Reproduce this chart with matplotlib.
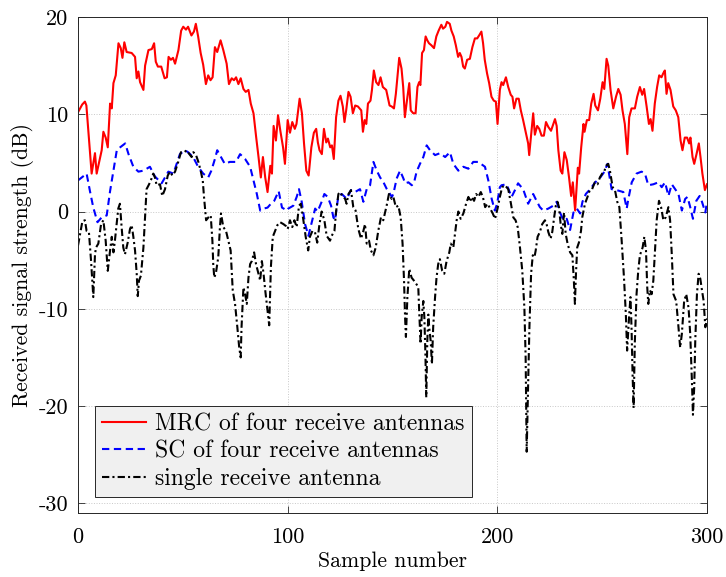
import matplotlib
matplotlib.use("Agg")
import matplotlib.pyplot as plt

plt.rcParams['font.family'] = 'serif'
plt.rcParams['font.serif'] = ['cmr10']
plt.rcParams['mathtext.fontset'] = 'cm'
plt.rcParams['axes.unicode_minus'] = False
plt.rcParams['axes.formatter.use_mathtext'] = False

# ---- data ----
mrc_x = [0, 2, 3.3, 4, 6.5, 8.1, 8.9, 11.3, 12.1, 13.2, 14.2, 15.3, 16.1, 16.9, 18, 19.3, 20.4, 21.2, 22.1, 23.2,
         25.6, 27.2, 28, 28.8, 29.6, 31.2, 32, 33.6, 35.2, 36.3, 37.1, 38.1, 39.7, 41.3, 42.4, 43.2, 44.3, 45.3, 46.3, 47.9,
         49.2, 50.2, 51.5, 52.5, 54.1, 55.3, 56.2, 57.3, 58.5, 59.7, 61, 62.1, 63.2, 64.2, 65.3, 66.4, 68, 69.3, 70.9, 72,
         73.3, 74.4, 75.4, 76.5, 77.6, 78.9, 80, 81.3, 82.4, 83.7, 85, 86.1, 87.2, 88.2, 89.3, 90.4, 91.7, 92.5, 93.3, 94.4,
         95.4, 96.5, 97.8, 98.7, 100, 101.1, 102.2, 103.4, 104.2, 105.7, 106.8, 107.8, 108.9, 110, 111.3, 112.5, 113.6, 114.4, 115.2, 116.3,
         117.3, 118.4, 119.2, 120.3, 121.1, 122, 123.1, 124.2, 125.2, 126.3, 127.1, 127.9, 129, 130, 131.1, 132.2, 133.5, 135.1, 135.9, 136.7,
         137.5, 138.3, 139.5, 140.2, 141.1, 142.2, 143.3, 144.3, 145.4, 147, 148.6, 149.6, 150.7, 151.6, 153.2, 154.3, 155.1, 155.9, 156.7, 158,
         158.7, 159.9, 161, 161.9, 162.7, 163.3, 164.1, 165, 165.8, 166.6, 167.4, 168.5, 169.8, 170.9, 172, 173.3, 174.1, 175.2, 176, 177.3,
         178.1, 179.2, 180.2, 181.3, 182.1, 182.9, 183.7, 184.5, 185.6, 186.9, 188.1, 189.3, 190.4, 191.3, 192.4, 193.2, 194, 195.1, 196.1, 197.2,
         198.3, 199.3, 200.1, 201.2, 202, 202.8, 204.1, 205.2, 206.4, 207.2, 208, 209.1, 210.2, 211.2, 212.3, 213.4, 214.7, 215.2, 216, 217.1,
         217.9, 219, 220, 221.1, 222.2, 223.2, 224.3, 225.6, 226.4, 227.5, 228.3, 229.1, 230.2, 231, 232, 233.1, 234.2, 235.2, 236, 237.1,
         237.9, 238.4, 239, 240, 241.1, 241.6, 242.7, 243.8, 244.8, 245.9, 246.7, 248, 249.1, 250.2, 251, 252.1, 252.9, 254, 255.3, 256.6,
         257.7, 258.8, 259.7, 260.8, 262, 262.9, 264, 265.6, 266.7, 268, 269.1, 270, 271.2, 272.3, 273.1, 274, 275.1, 276.2, 277.2, 278.3,
         279.1, 279.9, 280.7, 281.5, 282.6, 283.9, 285.1, 286.3, 287.4, 288.3, 289.4, 290.5, 291.5, 292.1, 293.1, 293.9, 295, 296.1, 296.9, 297.8,
         299, 300]
mrc_y = [10.2, 11.0, 11.3, 10.9, 3.9, 6.0, 3.9, 6.3, 8.2, 7.6, 6.6, 11.1, 10.6, 13.2, 14.0, 17.3, 16.8, 15.8, 17.4, 16.4,
         16.3, 15.9, 13.7, 14.4, 13.3, 12.5, 15.0, 16.6, 16.7, 17.3, 15.4, 14.9, 14.9, 13.7, 13.8, 15.9, 15.6, 15.8, 15.2, 16.6,
         18.6, 19.0, 18.7, 19.0, 18.1, 18.5, 19.3, 18.0, 16.3, 15.1, 13.1, 14.0, 13.5, 13.8, 16.9, 16.4, 17.6, 16.6, 15.2, 13.1,
         13.7, 13.5, 13.8, 13.1, 13.7, 12.6, 12.3, 12.5, 11.1, 10.1, 7.6, 5.6, 3.5, 5.6, 3.5, 2.0, 4.7, 3.9, 8.8, 7.3,
         9.9, 8.3, 6.6, 4.9, 9.4, 8.1, 9.2, 8.5, 9.0, 11.6, 10.1, 7.0, 4.2, 3.7, 6.6, 8.1, 8.5, 7.1, 6.3, 5.9,
         8.5, 7.1, 7.5, 6.6, 6.8, 5.4, 9.7, 11.4, 11.9, 10.8, 9.2, 10.4, 12.3, 11.8, 10.1, 10.9, 10.8, 10.4, 8.2, 9.4,
         9.0, 11.1, 11.4, 12.5, 14.5, 13.3, 13.0, 13.8, 12.8, 12.5, 10.9, 10.8, 10.6, 12.1, 15.8, 14.7, 12.8, 9.7, 11.1, 13.2,
         10.4, 10.1, 10.1, 12.8, 13.3, 13.0, 16.3, 16.6, 18.0, 17.6, 17.3, 17.1, 16.8, 18.0, 18.6, 19.2, 18.8, 19.0, 19.5, 19.3,
         18.6, 18.0, 17.1, 15.9, 16.3, 15.9, 14.9, 14.7, 15.6, 15.7, 16.9, 17.8, 17.8, 18.1, 18.5, 17.3, 15.6, 14.2, 13.2, 11.8,
         11.4, 11.3, 9.0, 12.5, 13.3, 13.0, 13.8, 12.8, 12.0, 11.8, 10.6, 11.6, 11.6, 10.4, 9.4, 8.3, 7.0, 5.8, 7.6, 10.1,
         7.9, 8.8, 8.5, 7.8, 7.8, 9.2, 8.7, 8.3, 8.8, 9.5, 8.8, 6.3, 4.2, 3.9, 6.1, 5.3, 3.5, 1.6, 3.0, 0.1,
         2.8, 4.5, 3.9, 6.6, 9.0, 8.2, 9.4, 9.4, 11.1, 12.1, 10.9, 10.4, 11.6, 13.3, 12.6, 15.7, 15.0, 12.5, 10.6, 11.8,
         12.6, 12.0, 10.4, 9.0, 5.9, 9.7, 10.6, 10.6, 11.8, 12.8, 12.0, 12.6, 10.8, 9.0, 9.5, 8.3, 11.1, 12.8, 14.0, 13.8,
         14.2, 14.5, 12.1, 13.2, 12.5, 10.8, 10.4, 9.7, 7.3, 6.3, 7.6, 7.6, 7.0, 7.6, 5.6, 4.9, 5.9, 7.0, 5.6, 3.9,
         2.2, 2.8]

sc_x = [0, 1.8, 4.1, 5.7, 7.3, 9.3, 11.3, 13.7, 15.3, 16.9, 18.5, 20.1, 22.5, 24.1, 26.4, 28.8, 31.2, 34.3, 36.7, 39.9,
        43.1, 45.5, 48.6, 51, 52.5, 54.9, 57.3, 59.7, 62.1, 63.6, 65.3, 66.4, 67.7, 70, 72.4, 75.4, 77.3, 79.7, 82.1, 83.7,
        85.3, 86.9, 88.5, 90.4, 92, 93.6, 95.7, 97.3, 99.7, 100.3, 102.7, 104.3, 105.4, 106.7, 108.3, 109.9, 111.5, 113.1, 114.3, 116.2,
        117.5, 119.1, 120.7, 121.8, 122.6, 123.4, 124.2, 125.8, 128.2, 130.2, 132.1, 134.5, 136.1, 137.7, 139.3, 140.9, 142.5, 144.1, 145.7, 147.3,
        149.7, 150.4, 152, 153.6, 155.2, 156, 157.6, 159.2, 160.3, 161.5, 163.1, 164.7, 166.3, 167.9, 170.3, 172.7, 175.1, 177.4, 179, 181.4,
        183.8, 186.2, 188.5, 190.9, 194.1, 195.7, 197.3, 198.8, 199.9, 201.2, 202, 204.4, 206.8, 208.4, 209.9, 212.3, 214.7, 217.1, 218.7, 220.3,
        221.9, 224.3, 226.7, 228.3, 229.9, 231.5, 233.1, 234.7, 236.3, 237.9, 239.5, 240.6, 242.2, 244.3, 246.7, 249.1, 251.1, 252.5, 254.5, 256.9,
        260.1, 261.7, 262.5, 264.1, 266.4, 268.8, 270.4, 272, 274.4, 276.8, 278.4, 280, 281.6, 283.2, 284.8, 286.4, 288, 289.6, 290.7, 292,
        293.3, 294.9, 296.5, 297.6, 299.2, 300]
sc_y = [3.2, 3.5, 3.9, 2.1, 0.4, -1.1, -0.6, -0.4, 2.1, 4.2, 6.3, 6.6, 7.0, 5.9, 4.6, 4.1, 4.2, 4.6, 3.6, 2.9,
        4.1, 3.9, 5.9, 6.3, 6.1, 5.6, 4.6, 3.9, 3.5, 4.2, 5.4, 6.3, 5.8, 4.9, 5.1, 5.1, 5.9, 5.4, 4.6, 3.2,
        1.8, 0.1, 0.3, 0.4, 0.8, 1.1, 2.1, 0.4, 0.1, 0.3, 0.6, 1.5, 2.3, 1.0, -1.3, -2.5, -1.1, 0.3, 0.0, 1.0,
        1.8, 1.5, 0.6, -0.6, -0.9, 0.45, 1.6, 1.8, 1.3, 2.2, 2.0, 2.3, 1.0, 2.3, 2.7, 5.1, 4.2, 3.5, 3.0, 2.3,
        1.5, 1.8, 3.4, 4.2, 3.4, 2.9, 3.0, 2.7, 3.0, 4.1, 4.9, 5.6, 6.8, 6.3, 5.8, 6.0, 5.6, 6.1, 4.9, 4.2,
        4.6, 4.4, 5.1, 5.1, 4.6, 3.2, 1.3, 0.1, 0.8, 2.5, 2.7, 2.8, 1.5, 2.2, 2.9, 2.3, 0.8, 1.8, 1.1, 0.45,
        0.1, 0.3, 0.6, 1.0, -0.1, -0.9, -0.75, -1.9, -0.1, 0.3, -0.2, 1.0, 1.8, 2.3, 3.0, 3.5, 4.1, 4.9, 2.3, 2.2,
        2.0, 0.3, 1.3, 3.0, 3.9, 4.1, 3.9, 2.7, 2.8, 3.0, 2.5, 3.0, 1.6, 2.8, 2.3, 1.8, 0.1, 1.3, 1.5, 0.45,
        -0.75, 1.1, 1.6, 1.0, -0.1, 1.0]

single_x = [0, 2.1, 3.3, 4.1, 5.2, 6.2, 7.3, 8.1, 8.6, 9.7, 11, 12.1, 13.2, 14.2, 15.3, 16.1, 16.9, 17.6, 18.4, 19.2,
            20, 20.8, 21.6, 22.4, 23.7, 24.8, 25.6, 26.4, 27.2, 28, 28.5, 29.1, 30, 31.2, 32, 32.7, 33.9, 35.1, 35.9, 36.7,
            37.5, 39.1, 40.2, 41.5, 42.8, 43.9, 45, 46.3, 47.8, 49.1, 50.7, 51.8, 53.1, 54.2, 55, 56.3, 57.4, 58.5, 59.5, 60.1,
            61.1, 62.2, 63.3, 64.1, 64.5, 65, 65.8, 66.9, 67.7, 68.2, 69.3, 70.6, 71.7, 72.8, 73.8, 74.9, 76, 76.9, 77.6, 78,
            78.9, 79.7, 80.5, 81.3, 82.1, 82.9, 84, 84.9, 86.1, 86.9, 87.7, 88.5, 89.3, 90.4, 91.2, 92, 92.9, 94, 95.1, 96.4,
            98, 99.2, 100, 101.1, 102.2, 103.2, 104.3, 105.4, 106.3, 107.5, 108.6, 109.8, 110.6, 111.8, 113, 114.1, 115.1, 116.2, 117.5, 118.6,
            120.2, 121, 122.3, 123.1, 124.2, 125, 126.1, 127.4, 128.1, 129, 130.2, 131.3, 132.4, 133.7, 135, 136.1, 136.9, 137.7, 138.8, 139.7,
            140.9, 142, 143.2, 144.5, 145.6, 147.2, 148.3, 149.6, 150.4, 151.6, 152.8, 153.9, 154.8, 155.5, 156, 156.4, 157.1, 158, 159.1, 160.2,
            161.5, 162.3, 162.8, 163.4, 163.9, 164.7, 165.2, 165.7, 166.1, 166.6, 167.1, 167.5, 168.2, 168.8, 169.4, 170.3, 171, 171.8, 172.6, 173.7,
            174.7, 175.8, 177.1, 177.8, 179, 179.8, 180.6, 181.4, 182.5, 183.8, 185.1, 186.2, 187, 187.8, 188.9, 189.9, 191, 192.1, 193.1, 194.2,
            195.3, 196.6, 197.8, 198.9, 200.1, 201.2, 202.3, 203.6, 205.2, 206.5, 207.6, 208.7, 209.7, 210.8, 211.9, 212.9, 213.5, 214, 214.5, 214.8,
            215.3, 216.1, 216.9, 217.7, 218.3, 219.2, 220.3, 221.4, 222.7, 223.5, 224.3, 225.4, 226.2, 227.1, 227.9, 228.7, 229.4, 230.2, 231, 231.8,
            232.6, 233.5, 234.7, 235.8, 236.5, 237, 237.5, 238.1, 238.9, 239.9, 240.5, 241.8, 243, 244.1, 245.2, 246.5, 247.8, 248.9, 250, 251,
            251.8, 252.9, 253.7, 255, 256.1, 257.2, 258.2, 259.3, 260.4, 261.3, 261.9, 262.9, 263.5, 264, 264.5, 265, 265.6, 266.4, 267.2, 268,
            269.3, 270.1, 270.9, 271.5, 272, 272.8, 273.6, 274.4, 275.2, 276, 277.1, 278.1, 279.2, 280.3, 281.6, 282.4, 283.2, 284, 285.3, 286.4,
            287.2, 288, 289.1, 290.1, 291.2, 292, 292.8, 293.3, 293.9, 294.4, 295.2, 296, 296.8, 297.6, 298.4, 299.2, 300]
single_y = [-3.5, -1.0, -0.9, -2.0, -2.1, -5.0, -8.8, -4.4, -3.7, -3.3, -1.3, -0.9, -3.0, -6.1, -4.0, -2.6, -4.2, -3.0, -1.3, 0.3,
            0.8, -1.6, -3.7, -4.4, -3.2, -1.8, -1.4, -2.6, -4.0, -6.4, -8.7, -7.1, -6.6, -3.7, -0.4, 2.3, 2.8, 3.4, 3.9, 3.5,
            2.7, 2.8, 1.6, 2.3, 3.7, 4.1, 3.7, 4.1, 5.1, 6.1, 6.1, 6.3, 5.9, 5.6, 6.1, 5.8, 5.1, 4.2, 3.2, 1.5,
            -0.9, -0.6, -0.4, -3.0, -5.4, -6.8, -6.3, -4.7, -1.6, -0.2, -1.6, -2.0, -3.0, -4.0, -8.1, -9.5, -11.9, -14.0, -15.0, -11.9,
            -7.8, -8.5, -9.5, -6.8, -5.4, -5.1, -4.2, -5.4, -6.4, -7.1, -5.1, -6.4, -8.1, -10.2, -11.7, -5.7, -2.6, -2.0, -1.4, -1.1,
            -1.3, -1.5, -1.8, -0.9, -1.6, -0.9, -1.6, 0.6, 0.8, -0.9, -2.6, -4.0, -2.6, -2.0, -2.1, -3.2, -1.4, 0.0, -0.9, -2.5,
            -3.0, -2.5, -2.0, 0.0, 1.8, 2.0, 1.6, 1.3, 0.8, 1.8, 2.2, 0.45, 0.1, -1.8, -2.8, -2.0, -1.3, -3.3, -3.0, -4.0,
            -4.5, -3.7, -2.0, -0.6, -0.9, 0.6, 1.8, 1.3, 1.5, 0.45, 0.6, -0.6, -3.3, -7.1, -10.9, -12.9, -8.8, -5.9, -6.8, -7.1,
            -7.5, -7.8, -10.6, -13.6, -10.9, -9.2, -10.9, -14.7, -19.1, -13.3, -10.6, -11.9, -13.3, -15.7, -11.9, -8.8, -6.8, -5.4, -4.9, -6.1,
            -6.4, -5.1, -4.2, -3.3, -3.7, -2.3, -0.9, 0.0, -0.75, -0.2, 0.8, 1.5, 1.0, 1.5, 1.1, 1.8, 1.5, 2.0, 1.5, 0.45,
            0.8, 0.3, -0.2, -0.75, 0.3, 1.5, 2.5, 2.7, 2.3, 0.8, -0.6, -0.9, -1.6, -3.7, -6.1, -9.9, -15.0, -24.7, -19.5, -16.7,
            -11.9, -6.4, -4.5, -4.7, -4.0, -2.6, -2.1, -1.3, -0.9, -1.3, -2.1, -2.8, -2.1, -0.6, 0.6, 1.0, 0.45, -1.3, -2.3, -0.1,
            -2.3, -3.3, -4.2, -4.5, -7.1, -9.5, -6.4, -3.7, -3.2, -2.0, -0.6, 0.8, 1.5, 2.2, 2.3, 3.0, 2.8, 3.5, 3.9, 4.1,
            4.7, 4.9, 4.2, 2.5, 2.2, 1.0, 0.45, -3.0, -6.8, -10.6, -14.3, -10.6, -8.8, -11.9, -16.7, -20.2, -13.3, -8.5, -6.1, -4.5,
            -3.7, -2.6, -4.0, -7.8, -9.5, -8.1, -8.5, -7.1, -4.0, -0.9, 1.1, 0.45, -0.9, -0.6, 0.45, -0.9, -4.4, -8.5, -9.2, -11.9,
            -14.0, -12.6, -9.2, -8.5, -9.9, -12.6, -17.4, -20.9, -18.1, -13.3, -8.5, -6.4, -6.9, -8.1, -9.2, -11.9, -11.0]

labels = ['MRC of four receive antennas', 'SC of four receive antennas', 'single receive antenna']
x_ticks = [0, 100, 200, 300]
y_ticks = [-30, -20, -10, 0, 10, 20]

# ---- figure ----
fig = plt.figure(figsize=(7.26, 5.77), dpi=100)
ax = fig.add_axes([78 / 726, 1 - 513 / 577, (707 - 78) / 726, (513 - 17) / 577])

ax.plot(mrc_x, mrc_y, color='#ff0000', lw=1.5, ls='-', label=labels[0])
ax.plot(sc_x, sc_y, color='#0000ff', lw=1.5, ls='--', dashes=(3.5, 2.2), label=labels[1])
ax.plot(single_x, single_y, color='black', lw=1.5, ls='-.', dashes=(3.5, 1.5, 1, 1.5), label=labels[2])

ax.set_xlim(0, 300)
ax.set_ylim(-31, 20)
ax.set_xticks(x_ticks)
ax.set_yticks(y_ticks)
ax.tick_params(direction='in', top=True, right=True, labelsize=16, length=5, width=0.6,
               color='#262626')
ax.tick_params(axis='x', pad=10.5)
ax.tick_params(axis='y', pad=7)
ax.grid(True, ls=':', lw=0.7, color='#c8c8c8')
ax.set_axisbelow(True)
for sp in ax.spines.values():
    sp.set_linewidth(0.7)
    sp.set_color('#262626')

ax.set_xlabel('Sample number', fontsize=15.7, labelpad=3)
ax.set_ylabel('Received signal strength (dB)', fontsize=15.7, labelpad=3)

leg = ax.legend(loc='lower left', bbox_to_anchor=(0.027, 0.032), borderaxespad=0,
                fontsize=17, fancybox=False, framealpha=1, facecolor='#f0f0f0',
                edgecolor='#262626', handlelength=1.85, handletextpad=0.4,
                labelspacing=0.22, borderpad=0.3)
leg.get_frame().set_linewidth(0.7)

fig.savefig('out.png', dpi=100)
